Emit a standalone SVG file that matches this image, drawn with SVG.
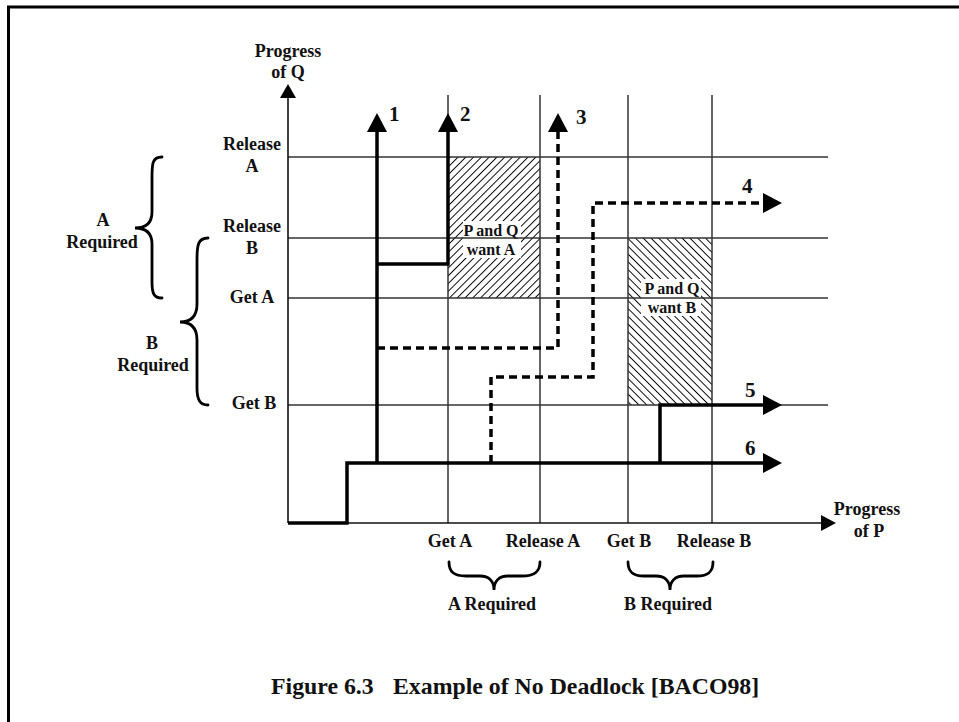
<svg xmlns="http://www.w3.org/2000/svg" width="959" height="722" viewBox="0 0 959 722">
<style>
text{font-family:"Liberation Serif","Times New Roman",serif;font-weight:bold;fill:#111;}
.lbl{font-size:18px;text-anchor:middle;}
.num{font-size:21px;}
.cap{font-size:23.8px;}
.grid{stroke:#333;stroke-width:1.5;fill:none;}
.axis{stroke:#111;stroke-width:1.6;fill:none;}
.path{stroke:#000;stroke-width:3.5;fill:none;}
.dash{stroke:#000;stroke-width:3.5;fill:none;stroke-dasharray:8 5;}
.brace{stroke:#000;stroke-width:2.8;fill:none;stroke-linecap:round;}
.head{fill:#000;}
</style>
<defs>
<pattern id="hatchA" patternUnits="userSpaceOnUse" width="5.5" height="5.5" patternTransform="rotate(45)">
<line x1="0" y1="0" x2="0" y2="5.5" stroke="#000" stroke-width="1.9"/>
</pattern>
<pattern id="hatchB" patternUnits="userSpaceOnUse" width="5.5" height="5.5" patternTransform="rotate(-45)">
<line x1="0" y1="0" x2="0" y2="5.5" stroke="#000" stroke-width="1.9"/>
</pattern>
</defs>
<rect width="959" height="722" fill="#fff"/>
<path d="M8.5,722 V7 H959" stroke="#000" stroke-width="3" fill="none"/>

<g id="regionA">
<rect x="448" y="157" width="92" height="141" fill="url(#hatchA)"/>
<rect x="463" y="221" width="58" height="37" fill="#fff"/>
<text class="lbl" x="491" y="236" style="font-size:16px">P and Q</text>
<text class="lbl" x="491" y="255" style="font-size:16px">want A</text>
</g>
<g id="regionB">
<rect x="628" y="238" width="84" height="167" fill="url(#hatchB)"/>
<rect x="641" y="279" width="60" height="37" fill="#fff"/>
<text class="lbl" x="672" y="294" style="font-size:16px">P and Q</text>
<text class="lbl" x="672" y="313" style="font-size:16px">want B</text>
</g>

<g id="grid">
<line class="grid" x1="288" y1="157" x2="828" y2="157"/>
<line class="grid" x1="288" y1="238" x2="828" y2="238"/>
<line class="grid" x1="288" y1="298" x2="828" y2="298"/>
<line class="grid" x1="288" y1="405" x2="828" y2="405"/>
<line class="grid" x1="448" y1="95" x2="448" y2="523"/>
<line class="grid" x1="540" y1="95" x2="540" y2="523"/>
<line class="grid" x1="628" y1="95" x2="628" y2="523"/>
<line class="grid" x1="712" y1="95" x2="712" y2="523"/>
</g>

<g id="axes">
<line class="axis" x1="288" y1="523" x2="288" y2="96"/>
<polygon class="head" points="288,84 280,98 296,98"/>
<line class="axis" x1="288" y1="523" x2="822" y2="523"/>
<polygon class="head" points="836,523 821,515 821,531"/>
<text class="lbl" x="288" y="57">Progress</text>
<text class="lbl" x="288" y="78">of Q</text>
<text class="lbl" x="867" y="515">Progress</text>
<text class="lbl" x="869" y="537">of P</text>
</g>

<g id="yLabels">
<text class="lbl" x="252" y="150">Release</text>
<text class="lbl" x="252" y="172">A</text>
<text class="lbl" x="252" y="232">Release</text>
<text class="lbl" x="252" y="254">B</text>
<text class="lbl" x="252" y="303">Get A</text>
<text class="lbl" x="254" y="409">Get B</text>
</g>

<g id="braceA">
<path class="brace" d="M162,157 C152,157 152,164 152,178 L152,212 C152,223 146,228 135,228 C146,228 152,233 152,244 L152,282 C152,294 154,298 162,298"/>
<text class="lbl" x="103" y="226">A</text>
<text class="lbl" x="102" y="248">Required</text>
</g>
<g id="braceB">
<path class="brace" d="M208,238 C198,238 197,245 197,260 L197,304 C197,316 191,322 180,322 C191,322 197,328 197,340 L197,388 C197,400 200,405 208,405"/>
<text class="lbl" x="152" y="349">B</text>
<text class="lbl" x="153" y="371">Required</text>
</g>

<g id="xLabels">
<text class="lbl" x="450" y="547">Get A</text>
<text class="lbl" x="543" y="547">Release A</text>
<text class="lbl" x="629" y="547">Get B</text>
<text class="lbl" x="714" y="547">Release B</text>
</g>

<g id="braceXA">
<path class="brace" d="M449,562 C449,572 454,576 466,576 L480,576 C489,576 494,581 494,590 C494,581 499,576 508,576 L522,576 C534,576 540,572 540,562"/>
<text class="lbl" x="492" y="610">A Required</text>
</g>
<g id="braceXB">
<path class="brace" d="M628,562 C628,572 633,576 644,576 L656,576 C665,576 670,581 670,590 C670,581 675,576 684,576 L697,576 C708,576 713,572 713,562"/>
<text class="lbl" x="668" y="610">B Required</text>
</g>

<g id="connectors">
<path class="path" d="M288,523 H347 V463 H766"/>
<polygon class="head" points="782,463 763,453 763,473"/>
<path class="path" d="M377,463 V130"/>
<polygon class="head" points="377,113 367,132 387,132"/>
<path class="path" d="M377,264 H448 V130"/>
<polygon class="head" points="448,113 438,132 458,132"/>
<path class="dash" d="M377,348 H558 V132"/>
<polygon class="head" points="558,113 548,132 568,132"/>
<path class="dash" d="M491,463 V377 H593 V203 H765"/>
<polygon class="head" points="782,203 763,193 763,213"/>
<path class="path" d="M660,463 V405 H766"/>
<polygon class="head" points="782,405 763,395 763,415"/>
</g>

<g id="numbers">
<text class="num" x="389" y="121">1</text>
<text class="num" x="460" y="121">2</text>
<text class="num" x="576" y="124">3</text>
<text class="num" x="742" y="193">4</text>
<text class="num" x="745" y="397">5</text>
<text class="num" x="745" y="455">6</text>
</g>

<text class="cap" x="271" y="694">Figure 6.3</text>
<text class="cap" x="393" y="694">Example of No Deadlock [BACO98]</text>
</svg>
